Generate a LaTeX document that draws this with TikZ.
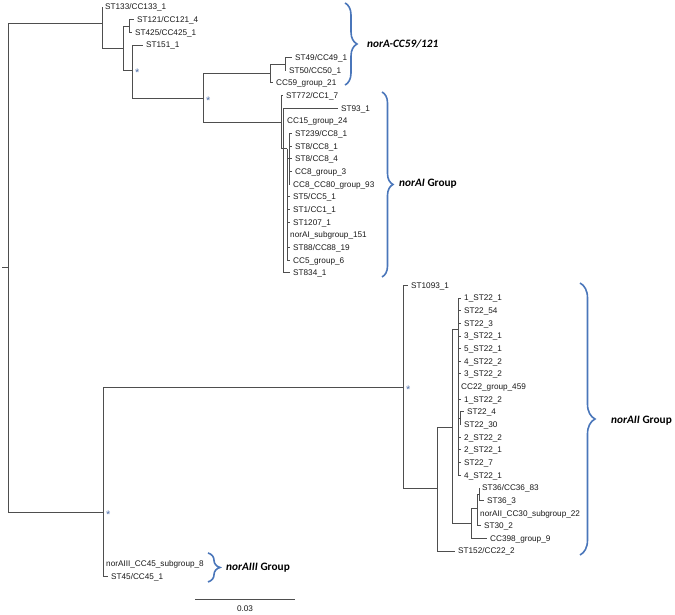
\documentclass[tikz,border=0pt]{standalone}
\usepackage{fontspec}
\setmainfont{Liberation Sans}
\newfontfamily\groupfont{Carlito}
\usepackage{tikz}
\usetikzlibrary{decorations.pathreplacing}
\definecolor{treegray}{HTML}{4E4E4E}
\definecolor{braceblue}{HTML}{4A76BA}
\definecolor{stargray}{HTML}{4F6FA8}
\tikzset{
  branch/.style     = {draw=treegray, line width=0.8pt},
  leaf/.style       = {anchor=west, inner xsep=3pt, inner ysep=0pt,
                       text height=6pt, text depth=0pt,
                       font=\fontsize{8.2}{9}\selectfont, text=black!90},
  support/.style    = {anchor=west, inner sep=0pt, yshift=-2.5pt,
                       font=\fontsize{11}{11}\selectfont, text=stargray},
  groupbrace/.style = {draw=braceblue, line width=1.6pt, decorate,
                       decoration={brace, amplitude=#1}},
  groupbrace/.default = 12,
  grouplabel/.style = {anchor=west, inner sep=1pt,
                       font=\groupfont\fontsize{11.3}{12}\selectfont\bfseries}
}

\begin{document}
\begin{tikzpicture}[x=1pt, y=-12.65pt]
    \useasboundingbox (0,-0.553) rectangle (675,48.06);
    % inner nodes
    \coordinate (root) at (8,20.6);
    \coordinate (nA)   at (102,1.26);
    \coordinate (nB)   at (123,3.26);
    \coordinate (nD)   at (129,1.5);
    \coordinate (nC)   at (132,5);
    \coordinate (nE)   at (203,7.19);
    \coordinate (nF)   at (270,5.25);
    \coordinate (nF1)  at (285,4.5);
    \coordinate (nG)   at (281,9.1);
    \coordinate (nH)   at (283,11.2);
    \coordinate (nI)   at (287,11.2);
    \coordinate (nJ)   at (289,12);
    \coordinate (nK)   at (103,39.92);
    \coordinate (nL)   at (403,30.04);
    \coordinate (nM)   at (437,38.02);
    \coordinate (nN)   at (452,33.2);
    \coordinate (nO)   at (458,25.45);
    \coordinate (nQ)   at (460,32.5);
    \coordinate (nP)   at (471,40.8);
    \coordinate (nR)   at (477,39.6);
    \coordinate (nS)   at (479,38.5);
    % leaves
    \node [leaf] (st133)   at (102,0)  {ST133/CC133\_1};
    \node [leaf] (st121)   at (134,1)  {ST121/CC121\_4};
    \node [leaf] (st425)   at (132,2)  {ST425/CC425\_1};
    \node [leaf] (st151)   at (143,3)  {ST151\_1};
    \node [leaf] (st49)    at (292,4)  {ST49/CC49\_1};
    \node [leaf] (st50)    at (286,5)  {ST50/CC50\_1};
    \node [leaf] (cc59)    at (273,6)  {CC59\_group\_21};
    \node [leaf] (st772)   at (283,7)  {ST772/CC1\_7};
    \node [leaf] (st93)    at (338,8)  {ST93\_1};
    \node [leaf] (cc15)    at (284,9)  {CC15\_group\_24};
    \node [leaf] (st239)   at (292,10) {ST239/CC8\_1};
    \node [leaf] (st8a)    at (292,11) {ST8/CC8\_1};
    \node [leaf] (st8b)    at (292,12) {ST8/CC8\_4};
    \node [leaf] (cc8)     at (292,13) {CC8\_group\_3};
    \node [leaf] (cc8cc80) at (290,14) {CC8\_CC80\_group\_93};
    \node [leaf] (st5)     at (290,15) {ST5/CC5\_1};
    \node [leaf] (st1)     at (290,16) {ST1/CC1\_1};
    \node [leaf] (st1207)  at (290,17) {ST1207\_1};
    \node [leaf] (subAI)   at (287,18) {norAI\_subgroup\_151};
    \node [leaf] (st88)    at (290,19) {ST88/CC88\_19};
    \node [leaf] (cc5)     at (290,20) {CC5\_group\_6};
    \node [leaf] (st834)   at (290,21) {ST834\_1};
    \node [leaf] (st1093)  at (408,22) {ST1093\_1};
    \node [leaf] (st22a)   at (461,23) {1\_ST22\_1};
    \node [leaf] (st22b)   at (461,24) {ST22\_54};
    \node [leaf] (st22c)   at (461,25) {ST22\_3};
    \node [leaf] (st22d)   at (461,26) {3\_ST22\_1};
    \node [leaf] (st22e)   at (461,27) {5\_ST22\_1};
    \node [leaf] (st22f)   at (461,28) {4\_ST22\_2};
    \node [leaf] (st22g)   at (461,29) {3\_ST22\_2};
    \node [leaf] (cc22)    at (458,30) {CC22\_group\_459};
    \node [leaf] (st22h)   at (461,31) {1\_ST22\_2};
    \node [leaf] (st22i)   at (464,32) {ST22\_4};
    \node [leaf] (st22j)   at (461,33) {ST22\_30};
    \node [leaf] (st22k)   at (461,34) {2\_ST22\_2};
    \node [leaf] (st22l)   at (461,35) {2\_ST22\_1};
    \node [leaf] (st22m)   at (461,36) {ST22\_7};
    \node [leaf] (st22n)   at (461,37) {4\_ST22\_1};
    \node [leaf] (st36a)   at (479,38) {ST36/CC36\_83};
    \node [leaf] (st36b)   at (484,39) {ST36\_3};
    \node [leaf] (subAII)  at (477,40) {norAII\_CC30\_subgroup\_22};
    \node [leaf] (st30)    at (481,41) {ST30\_2};
    \node [leaf] (cc398)   at (487,42) {CC398\_group\_9};
    \node [leaf] (st152)   at (455,43) {ST152/CC22\_2};
    \node [leaf] (subAIII) at (103,44) {norAIII\_CC45\_subgroup\_8};
    \node [leaf] (st45)    at (108,45) {ST45/CC45\_1};
    % branches
    \draw [branch] (root) -- ++(-6,0);
    \draw [branch] (root) |- (nA) (root) |- (nK);
    \draw [branch] (nA) |- (st133) (nA) |- (nB);
    \draw [branch] (nB) |- (nD) (nB) |- (nC);
    \draw [branch] (nD) |- (st121) (nD) |- (st425);
    \draw [branch] (nC) |- (st151) (nC) |- (nE);
    \draw [branch] (nE) |- (nF) (nE) |- (nG);
    \draw [branch] (nF) |- (nF1) (nF) |- (cc59);
    \draw [branch] (nF1) |- (st49) (nF1) |- (st50);
    \draw [branch] (nG) |- (st772) (nG) |- (nH);
    \draw [branch] (nH) |- (st93) (nH) |- (cc15) (nH) |- (nI) (nH) |- (st834);
    \draw [branch] (nI) |- (nJ) (nI) |- (st5) (nI) |- (st1) (nI) |- (st1207)
                   (nI) |- (subAI) (nI) |- (st88) (nI) |- (cc5);
    \draw [branch] (nJ) |- (st239) (nJ) |- (st8a) (nJ) |- (st8b) (nJ) |- (cc8)
                   (nJ) |- (cc8cc80);
    \draw [branch] (nK) |- (nL) (nK) |- (subAIII) (nK) |- (st45);
    \draw [branch] (nL) |- (st1093) (nL) |- (nM);
    \draw [branch] (nM) |- (nN) (nM) |- (st152);
    \draw [branch] (nN) |- (nO) (nN) |- (nP);
    \draw [branch] (nO) |- (st22a) (nO) |- (st22b) (nO) |- (st22c) (nO) |- (st22d)
                   (nO) |- (st22e) (nO) |- (st22f) (nO) |- (st22g) (nO) |- (cc22)
                   (nO) |- (st22h) (nO) |- (nQ) (nO) |- (st22k) (nO) |- (st22l)
                   (nO) |- (st22m) (nO) |- (st22n);
    \draw [branch] (nQ) |- (st22i) (nQ) |- (st22j);
    \draw [branch] (nP) |- (nR) (nP) |- (cc398);
    \draw [branch] (nR) |- (nS) (nR) |- (subAII) (nR) |- (st30);
    \draw [branch] (nS) |- (st36a) (nS) |- (st36b);
    % support marks
    \node [support] at ([xshift=3pt]nC) {*};
    \node [support] at ([xshift=3pt]nE) {*};
    \node [support] at ([xshift=3pt]nL) {*};
    \node [support] at ([xshift=3pt]nK) {*};
    % groups
    \draw [groupbrace=12] (345,-0.32) -- (345,6.17);
    \draw [groupbrace=11] (382,6.72) -- (382,21.34);
    \draw [groupbrace=15] (580,21.82) -- (580,43.32);
    \draw [groupbrace=12] (208,43.16) -- (208,45.45);
    \node [grouplabel] (cc59lbl)  at (366,2.93)  {\itshape norA-CC59/121};
    \node [grouplabel] (norAIlbl) at (398,13.99) {\textit{norAI} Group};
    \node [grouplabel] (norAIIlbl) at (610,32.73) {\textit{norAII} Group};
    \node [grouplabel] (norAIIIlbl) at (225,44.35) {\textit{norAIII} Group};
    % scale
    \draw [branch] (195,46.8) -- (295,46.8);
    \node [leaf, anchor=center] (scalelbl) at (245,47.55) {0.03};
\end{tikzpicture}
\end{document}
